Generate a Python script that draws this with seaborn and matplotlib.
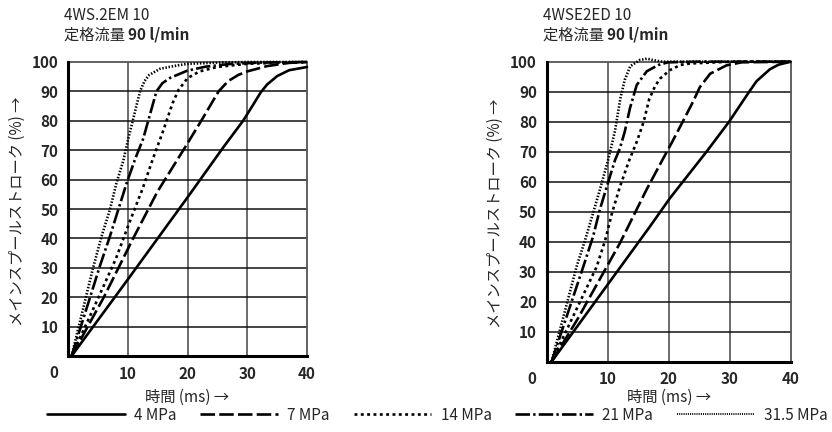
import matplotlib
matplotlib.use("Agg")
import matplotlib.pyplot as plt
from matplotlib.lines import Line2D
import seaborn as sns
import numpy as np

# ---------------- data ----------------
pressures = ["4 MPa", "7 MPa", "14 MPa", "21 MPa", "31.5 MPa"]

# Left chart: 4WS.2EM 10
l_4_x = [0.6, 10, 20.2, 26, 29.3, 31, 32.2, 33.3, 35, 37, 40]
l_4_y = [0, 26, 54.5, 71, 80, 85.5, 89.5, 92.3, 95.2, 97.2, 98.3]
l_7_x = [0.6, 6, 10.9, 15, 19.6, 22.3, 25.2, 26.8, 28.5, 30, 33.3, 37, 40]
l_7_y = [0, 20, 40, 56, 71, 80, 90, 93.5, 95.6, 96.8, 98.6, 99.7, 100]
l_14_x = [0.6, 4, 8, 10.2, 12.5, 14.2, 16, 17.5, 18.5, 20, 22, 25, 30, 40]
l_14_y = [0, 15, 33, 45, 57, 67, 77, 86, 90.5, 94.5, 96.8, 98.3, 99.4, 100]
l_21_x = [0.6, 5.4, 7, 8.4, 9.8, 11.2, 12.6, 13.7, 14.8, 15.8, 17.1, 19.9, 23, 27, 32, 40]
l_21_y = [0, 31, 40.6, 49.7, 58.7, 66.8, 74, 82, 90, 92.8, 94.6, 97, 98.4, 99.3, 99.8, 100]
l_31_x = [0.6, 4.2, 5.6, 7.0, 8.1, 9.26, 10.1, 11.2, 12.05, 12.8, 13.6, 15.4, 18.2, 20.1, 25, 30, 40]
l_31_y = [0, 30, 40.6, 49.7, 58.7, 66.5, 74, 83, 90, 93.5, 95.6, 97.7, 98.8, 99.4, 99.8, 100, 100]

# Right chart: 4WSE2ED 10
r_4_x = [0.8, 16.9, 20.2, 26.2, 29.9, 33.2, 34.4, 36.6, 38, 40]
r_4_y = [0, 45, 54.5, 70, 80, 90, 93.5, 97.5, 99, 100]
r_7_x = [0.8, 5, 9.8, 12, 14.2, 16.4, 18.9, 20.5, 22.3, 24, 25.1, 26.8, 29.5, 32, 40]
r_7_y = [0, 14, 31.5, 39.5, 48.5, 57.5, 67, 73, 80, 86.7, 91.5, 96, 98.8, 99.8, 100]
r_14_x = [0.8, 8.2, 9.6, 10.7, 12, 13.5, 14.8, 15.9, 16.8, 17.8, 18.6, 20.2, 21.9, 23.5, 30, 40]
r_14_y = [0, 31.7, 40.6, 49.5, 58.3, 67, 73.5, 80, 87.5, 92, 94.4, 97.2, 98.9, 99.4, 100, 100]
r_21_x = [0.8, 6.0, 7.6, 8.7, 9.84, 11.2, 12.0, 12.8, 13.65, 14.75, 16.4, 18.3, 19.9, 25, 40]
r_21_y = [0, 31.7, 41.7, 50.6, 58.3, 67.2, 71.1, 76.7, 84.5, 92.2, 96.8, 98.9, 99.8, 100, 100]
r_31_x = [0.8, 4.9, 6.3, 7.6, 8.7, 10.1, 11.2, 12.1, 12.8, 13.7, 15.3, 16.5, 17.5, 19, 25, 40]
r_31_y = [0, 31.7, 40.6, 49.5, 57.2, 67.5, 77, 88, 94, 98.5, 100.6, 101, 100.5, 100, 100, 100]

x_ticks = [10, 20, 30, 40]
y_ticks = [10, 20, 30, 40, 50, 60, 70, 80, 90, 100]

titles = ["4WS.2EM 10", "4WSE2ED 10"]
subtitle_a = "定格流量 "
subtitle_b = "90 l/min"
ylabel = "メインスプールストローク (%) →"
xlabel = "時間 (ms) →"

# ---------------- style ----------------
sns.set_style("white")
plt.rcParams["font.family"] = ["Noto Sans CJK JP", "DejaVu Sans"]

W, H = 832, 432
fig = plt.figure(figsize=(W / 100, H / 100), dpi=100)

def fx(px):
    return px / W

def fy(py):
    return 1 - py / H

LW = 1.9
styles = [
    dict(linestyle="-", lw=LW),
    dict(linestyle=(0, (5.5, 1.6)), lw=LW),
    dict(linestyle=(0, (1.1, 1.3)), lw=LW),
    dict(linestyle=(0, (5.5, 1.2, 0.9, 1.2)), lw=LW),
    dict(linestyle=(0, (0.55, 0.65)), lw=LW),
]

FS = 11

def draw_chart(box, series, title, zero_xy, tick_pad_y, tick_pad_x, ylab_x, xlab_y):
    left, top, right, bottom = box
    ax = fig.add_axes([fx(left), fy(bottom), fx(right) - fx(left), fy(top) - fy(bottom)])
    for (xs, ys), st in zip(series, styles):
        sns.lineplot(x=xs, y=ys, ax=ax, color="black", estimator=None, sort=False,
                     clip_on=False, zorder=3, **st)
    ax.set_xlim(0, 40)
    ax.set_ylim(0, 100)
    ax.set_xticks(x_ticks)
    ax.set_yticks(y_ticks)
    ax.set_xticklabels([str(t) for t in x_ticks], fontweight="bold", fontsize=FS)
    ax.set_yticklabels([str(t) for t in y_ticks], fontweight="bold", fontsize=FS)
    ax.tick_params(axis="both", length=0)
    ax.tick_params(axis="y", pad=tick_pad_y)
    ax.tick_params(axis="x", pad=tick_pad_x)
    for v in [10, 20, 30]:
        ax.axvline(v, color="#444444", lw=1.1, zorder=1)
    for v in y_ticks[:-1]:
        ax.axhline(v, color="#111111", lw=1.1, zorder=1)
    for s in ["left", "bottom"]:
        ax.spines[s].set_color("black")
        ax.spines[s].set_linewidth(2.2)
        ax.spines[s].set_zorder(4)
    for s in ["top", "right"]:
        ax.spines[s].set_color("#555555")
        ax.spines[s].set_linewidth(1.3)
    ax.set_xlabel("")
    ax.set_ylabel("")
    # corner zero
    fig.text(fx(zero_xy[0]), fy(zero_xy[1]), "0", ha="center", va="center",
             fontweight="bold", fontsize=FS)
    # titles
    fig.text(fx(left - 4), fy(15), title, ha="left", va="center", fontsize=FS)
    t1 = fig.text(fx(left - 4), fy(35), subtitle_a, ha="left", va="center", fontsize=FS)
    fig.canvas.draw()
    bb = t1.get_window_extent()
    fig.text(bb.x1 / W, fy(35), subtitle_b, ha="left", va="center",
             fontsize=FS, fontweight="bold")
    # axis labels
    fig.text(fx(ylab_x), fy((top + bottom) / 2 + 2), ylabel, rotation=90,
             ha="center", va="center", fontsize=FS)
    fig.text(fx((left + right) / 2), fy(xlab_y), xlabel, ha="center", va="center",
             fontsize=FS)
    return ax

left_series = [(l_4_x, l_4_y), (l_7_x, l_7_y), (l_14_x, l_14_y), (l_21_x, l_21_y), (l_31_x, l_31_y)]
right_series = [(r_4_x, r_4_y), (r_7_x, r_7_y), (r_14_x, r_14_y), (r_21_x, r_21_y), (r_31_x, r_31_y)]

draw_chart((68, 62, 307, 356), left_series, titles[0], (54, 373), 7, 7, 17, 397)
draw_chart((546.7, 61.7, 790.7, 361.7), right_series, titles[1], (532, 379), 7, 7, 495, 397)

handles = []
for i, st in enumerate(styles):
    st2 = dict(st)
    if i == 4:
        st2["lw"] = 1.3
        st2["linestyle"] = (0, (0.6, 0.6))
    handles.append(Line2D([0], [0], color="black", **st2))
fig.legend(handles, pressures, loc="center left", bbox_to_anchor=(fx(47), fy(415)),
           ncol=5, frameon=False, fontsize=FS, handlelength=5.1, handletextpad=0.6,
           columnspacing=1.55, borderpad=0, borderaxespad=0)

fig.savefig("out.png", dpi=100)
